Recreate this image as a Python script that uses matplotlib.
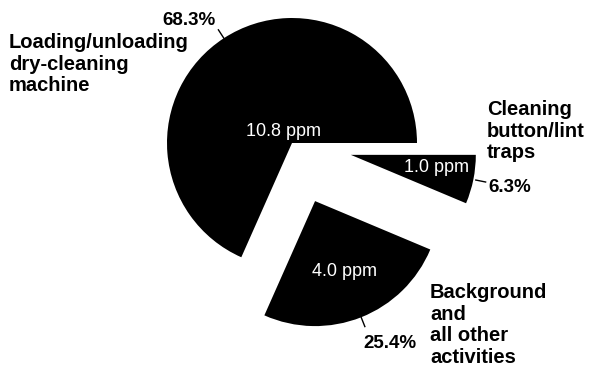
import numpy as np
import matplotlib
matplotlib.use("Agg")
import matplotlib.pyplot as plt

# exposure sources and their concentrations
sources = ["Loading/unloading\ndry-cleaning\nmachine",
           "Background\nand\nall other\nactivities",
           "Cleaning\nbutton/lint\ntraps"]
ppm = [10.8, 4.0, 1.0]
shares = [68.3, 25.4, 6.3]
explode = [0.0, 0.5, 0.48]

W, H = 590, 368
R = 125.0          # pie radius in pixels
CX, CY = 292, 143  # pie centre in pixels


def px(x, y):
    # pixel position -> data coordinates (radius 1 == R pixels)
    return (x - CX) / R, (CY - y) / R


fig = plt.figure(figsize=(W / 100, H / 100), dpi=100)
ax = fig.add_axes([0, 0, 1, 1])

wedges, _ = ax.pie(ppm, explode=explode, startangle=0, counterclock=True,
                   colors=["black"] * 3, radius=1.0, center=(0, 0),
                   wedgeprops=dict(linewidth=0))

ax.set_xlim(-CX / R, (W - CX) / R)
ax.set_ylim(-(H - CY) / R, CY / R)
ax.set_aspect("equal")
ax.axis("off")

# ppm values inside the slices
ppm_pos = [(284, 131), (344, 272), (436, 168)]
for v, (x, y) in zip(ppm, ppm_pos):
    ax.text(*px(x, y), f"{v:.1f} ppm", color="white", fontsize=13,
            family="Liberation Sans", ha="center", va="center")

# leader lines from each arc to its percentage
lead = [(0.99, 1.08), (0.98, 1.08), (1.02, 1.10)]
for w, (r0, r1) in zip(wedges, lead):
    mid = np.deg2rad((w.theta1 + w.theta2) / 2)
    cx, cy = w.center
    ax.plot([cx + r0 * np.cos(mid), cx + r1 * np.cos(mid)],
            [cy + r0 * np.sin(mid), cy + r1 * np.sin(mid)],
            color="black", lw=1.0)

pct_pos = [(162, 25), (363, 348), (488, 192)]
for s, (x, y) in zip(shares, pct_pos):
    ax.text(*px(x, y), f"{s:.1f}%", fontsize=13.5, fontweight="bold",
            family="Liberation Sans", ha="left", va="baseline")

src_pos = [(9, 33), (430, 283), (487, 100)]
for name, (x, y) in zip(sources, src_pos):
    ax.text(*px(x, y), name, fontsize=14.5, fontweight="bold",
            family="Liberation Sans", ha="left", va="top", linespacing=1.18)

fig.savefig("out.png", dpi=100, facecolor="white")
